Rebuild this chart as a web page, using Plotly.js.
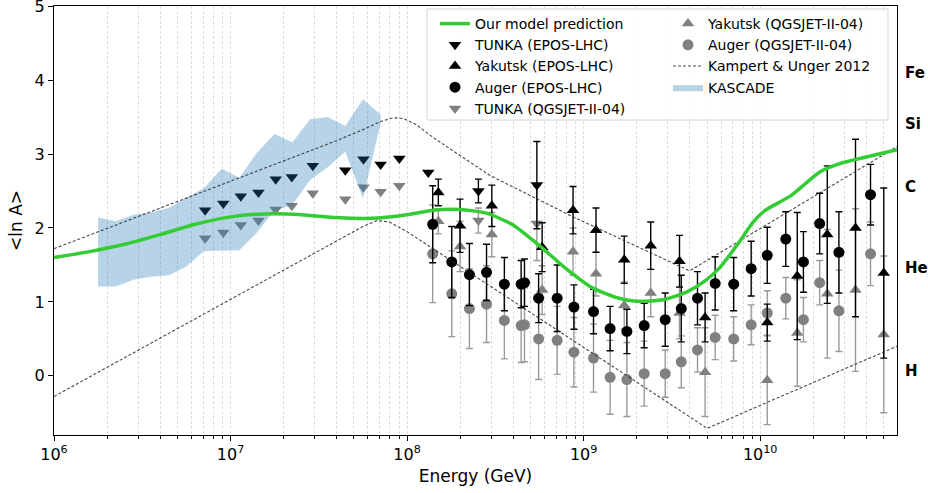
<!DOCTYPE html>
<html><head><meta charset="utf-8">
<script src="https://cdn.plot.ly/plotly-3.0.1.min.js"></script>
<style>html,body{margin:0;padding:0;background:#fff}#chart{width:928px;height:493px}</style>
</head><body><div id="chart"></div>
<script>
// ---- data (log10 of energy in GeV) ----
const modelLogE = [6.0, 6.2, 6.4, 6.6, 6.8, 7.0, 7.2, 7.4, 7.6, 7.8, 8.0, 8.15, 8.3, 8.45, 8.6, 8.75, 8.9, 9.05, 9.2, 9.3, 9.45, 9.58, 9.68, 9.77, 9.89, 9.96, 10.03, 10.17, 10.34, 10.45, 10.6, 10.775];
const modelLnA  = [1.60, 1.68, 1.78, 1.91, 2.05, 2.15, 2.19, 2.18, 2.14, 2.13, 2.18, 2.24, 2.25, 2.20, 2.04, 1.76, 1.45, 1.19, 1.05, 1.01, 1.03, 1.13, 1.27, 1.46, 1.84, 2.08, 2.24, 2.43, 2.76, 2.87, 2.96, 3.06];

const tunkaLogE     = [6.856, 6.959, 7.058, 7.158, 7.256, 7.347, 7.466, 7.65, 7.753, 7.85, 7.956, 8.12, 8.404, 8.735];
const tunkaEpos     = [2.24, 2.33, 2.43, 2.48, 2.66, 2.69, 2.84, 2.78, 2.93, 2.86, 2.94, 2.75, 2.50, 2.58];
const tunkaEposErr  = [0, 0, 0, 0, 0, 0, 0, 0, 0, 0, 0, 0, 0.16, 0.59];
const tunkaQgs      = [1.86, 1.94, 2.04, 2.10, 2.25, 2.30, 2.47, 2.39, 2.55, 2.49, 2.57, null, 2.10, 2.06];
const tunkaQgsErr   = [0, 0, 0, 0, 0, 0, 0, 0, 0, 0, 0, 0, 0.17, 0.5];

const yakLogE     = [8.177, 8.30, 8.48, 8.765, 8.94, 9.07, 9.23, 9.38, 9.543, 9.688, 10.04, 10.21, 10.38, 10.54, 10.70];
const yakEpos     = [2.48, 2.03, 2.30, 1.74, 2.24, 1.97, 1.57, 1.76, 1.55, 0.79, 0.72, 1.35, 1.91, 2.00, 1.39];
const yakEposErr  = [0.18, 0.36, 0.28, 0.33, 0.32, 0.30, 0.32, 0.32, 0.35, 0.33, 0.25, 0.86, 0.93, 1.20, 1.15];
const yakQgs      = [2.09, 1.75, 1.91, 1.16, 1.68, 1.38, 0.95, 1.12, 0.85, 0.05, -0.06, 0.58, 1.11, 1.16, 0.56];
const yakQgsErr   = [0.17, 0.34, 0.30, 0.33, 0.32, 0.30, 0.32, 0.32, 0.35, 0.6, 0.6, 0.72, 0.87, 1.1, 1.06];

const augerLogE    = [8.145, 8.253, 8.353, 8.45, 8.551, 8.646, 8.665, 8.745, 8.85, 8.945, 9.056, 9.15, 9.245, 9.343, 9.462, 9.553, 9.645, 9.745, 9.85, 9.949, 10.04, 10.145, 10.245, 10.337, 10.446, 10.625];
const augerEpos    = [2.05, 1.54, 1.37, 1.40, 1.24, 1.24, 1.26, 1.05, 1.05, 0.93, 0.87, 0.64, 0.60, 0.68, 0.76, 0.91, 1.05, 1.25, 1.24, 1.45, 1.63, 1.85, 1.54, 2.06, 1.67, 2.45];
const augerEposErr = [0.52, 0.48, 0.42, 0.38, 0.36, 0.32, 0.32, 0.33, 0.45, 0.30, 0.30, 0.30, 0.30, 0.30, 0.36, 0.45, 0.36, 0.36, 0.36, 0.37, 0.38, 0.37, 0.41, 0.41, 0.55, 0.41];
const augerQgs     = [1.65, 1.11, 0.91, 0.97, 0.75, 0.68, 0.69, 0.50, 0.48, 0.32, 0.24, -0.02, -0.05, 0.03, 0.03, 0.19, 0.35, 0.52, 0.50, 0.69, 0.85, 1.05, 0.76, 1.26, 0.88, 1.65];
const augerQgsErr  = [0.66, 0.58, 0.54, 0.52, 0.52, 0.50, 0.50, 0.55, 0.46, 0.47, 0.46, 0.50, 0.50, 0.44, 0.32, 0.35, 0.30, 0.30, 0.30, 0.27, 0.30, 0.28, 0.30, 0.30, 0.55, 0.43];

const kuUpperLogE = [6.0, 7.0, 7.6, 7.75, 7.85, 7.92, 7.98, 8.05, 8.15, 8.3, 8.47, 8.94, 9.43, 9.6, 10.775];
const kuUpper     = [1.72, 2.63, 3.18, 3.33, 3.44, 3.49, 3.48, 3.40, 3.22, 2.98, 2.71, 2.15, 1.61, 1.42, 3.10];
const kuLowerLogE = [6.0, 7.0, 7.6, 7.75, 7.83, 7.9, 8.0, 9.7, 10.775];
const kuLower     = [-0.28, 1.03, 1.82, 2.02, 2.10, 2.08, 1.95, -0.71, 0.40];

const kascadeLogE  = [6.25, 6.35, 6.45, 6.55, 6.65, 6.75, 6.85, 6.95, 7.05, 7.15, 7.25, 7.35, 7.45, 7.55, 7.65, 7.75, 7.85];
const kascadeUpper = [2.14, 2.09, 2.18, 2.21, 2.27, 2.40, 2.54, 2.80, 2.68, 3.02, 3.27, 3.16, 3.47, 3.50, 3.38, 3.74, 3.53];
const kascadeLower = [1.21, 1.21, 1.30, 1.34, 1.36, 1.48, 1.69, 1.69, 1.70, 1.94, 2.24, 2.31, 2.65, 2.82, 3.03, 2.40, 3.42];

const elemNames  = ['Fe', 'Si', 'C', 'He', 'H'];
const elemMass   = [56, 28, 12, 4, 1];

const xTickExp  = [6, 7, 8, 9, 10];
const yTickVals = [0, 1, 2, 3, 4, 5];

// ---- build ----
const toE = a => a.map(v => Math.pow(10, v));
const BLACK = '#000000', GRAY = '#808080';
function pts(name, logE, y, err, symbol, color, legend, rank, size) {
  return {
    type: 'scatter', mode: 'markers', name: name, x: toE(logE), y: y,
    marker: {symbol: symbol, size: size, color: color, line: {width: 0}},
    error_y: {type: 'data', array: err, visible: true, color: color === BLACK ? '#000' : '#9a9a9a', thickness: 1.4, width: 3.5},
    legend: legend, legendrank: rank, hoverinfo: 'x+y'
  };
}
const traces = [
  pts('Yakutsk (QGSJET-II-04)', yakLogE, yakQgs, yakQgsErr, 'triangle-up', GRAY, 'legend2', 1, 11),
  pts('Auger (QGSJET-II-04)', augerLogE, augerQgs, augerQgsErr, 'circle', GRAY, 'legend2', 2, 11),
  pts('TUNKA (QGSJET-II-04)', tunkaLogE, tunkaQgs, tunkaQgsErr, 'triangle-down', GRAY, 'legend', 5, 11),
  pts('TUNKA (EPOS-LHC)', tunkaLogE, tunkaEpos, tunkaEposErr, 'triangle-down', BLACK, 'legend', 2, 11),
  pts('Yakutsk (EPOS-LHC)', yakLogE, yakEpos, yakEposErr, 'triangle-up', BLACK, 'legend', 3, 11),
  pts('Auger (EPOS-LHC)', augerLogE, augerEpos, augerEposErr, 'circle', BLACK, 'legend', 4, 11),
  {
    type: 'scatter', mode: 'lines', name: 'KASCADE',
    x: toE(kascadeLogE.concat(kascadeLogE.slice().reverse())),
    y: kascadeUpper.concat(kascadeLower.slice().reverse()),
    fill: 'toself', fillcolor: 'rgba(31,119,180,0.32)', line: {width: 0, color: 'rgba(31,119,180,0.32)'},
    legend: 'legend2', legendrank: 4, hoverinfo: 'skip'
  },
  {
    type: 'scatter', mode: 'lines', name: 'Kampert & Unger 2012',
    x: toE(kuUpperLogE).concat([null], toE(kuLowerLogE)),
    y: kuUpper.concat([null], kuLower),
    line: {color: 'rgba(40,40,40,0.85)', width: 1.1, dash: '3px,2px'},
    legend: 'legend2', legendrank: 3
  },
  {
    type: 'scatter', mode: 'lines', name: 'Our model prediction',
    x: toE(modelLogE), y: modelLnA, line: {color: '#33cc33', width: 3.5, shape: 'spline', smoothing: 0.6},
    legend: 'legend', legendrank: 1
  }
];

const PL = 54, PR = 897, PT = 6, PB = 435;
const pw = PR - PL, ph = PB - PT;
const px = v => (v - PL) / pw, py = v => 1 - (v - PT) / ph;

const annotations = elemNames.map((n, i) => ({
  xref: 'paper', yref: 'y', x: 1, y: Math.log(elemMass[i]), xanchor: 'left', yanchor: 'middle',
  xshift: 6, yshift: 5, text: n, showarrow: false,
  font: {family: 'DejaVu Sans', size: 15, color: '#000', weight: 'bold'}
}));

const layout = {
  width: 928, height: 493,
  margin: {l: PL, r: 928 - PR, t: PT, b: 493 - PB},
  paper_bgcolor: '#fff', plot_bgcolor: '#fff',
  font: {family: 'DejaVu Sans', color: '#000', size: 14},
  showlegend: true,
  xaxis: {
    type: 'log', range: [6, 10.775],
    tickmode: 'array', tickvals: xTickExp.map(e => Math.pow(10, e)), ticktext: xTickExp.map(e => '10<sup>' + e + '</sup>'),
    showgrid: false, zeroline: false, showline: true, linecolor: '#000', linewidth: 1, mirror: true,
    ticks: 'outside', ticklen: 5, tickcolor: '#000', tickfont: {size: 16}, ticklabeloverflow: 'allow',
    minor: {dtick: 'D1', showgrid: true, griddash: '3px,2px', gridcolor: '#d0d0d0', gridwidth: 0.7, ticks: 'outside', ticklen: 3, tickcolor: '#000'},
    title: {text: 'Energy (GeV)', font: {size: 17}, standoff: 6}
  },
  yaxis: {
    range: [-0.8, 5.002], tickmode: 'array', tickvals: yTickVals, ticktext: yTickVals.map(String),
    showgrid: false, zeroline: false, showline: true, linecolor: '#000', linewidth: 1, mirror: true,
    ticks: 'outside', ticklen: 5, tickcolor: '#000', tickfont: {size: 16}, ticklabeloverflow: 'allow',
    title: {text: '&lt;ln A&gt;', font: {size: 17}, standoff: 7}
  },
  legend: {x: px(435), xanchor: 'left', y: py(8), yanchor: 'top', bgcolor: 'rgba(0,0,0,0)', borderwidth: 0, font: {size: 14}, tracegroupgap: 0},
  legend2: {x: px(668), xanchor: 'left', y: py(8), yanchor: 'top', bgcolor: 'rgba(0,0,0,0)', borderwidth: 0, font: {size: 14}, tracegroupgap: 0},
  shapes: [{
    type: 'rect', xref: 'paper', yref: 'paper', x0: px(427), x1: px(888), y0: py(120), y1: py(9),
    line: {color: '#d6d6d6', width: 1}, fillcolor: 'rgba(255,255,255,0.8)', layer: 'above'
  }],
  annotations: annotations
};

Plotly.newPlot('chart', traces, layout, {displayModeBar: false, staticPlot: true});
</script></body></html>
